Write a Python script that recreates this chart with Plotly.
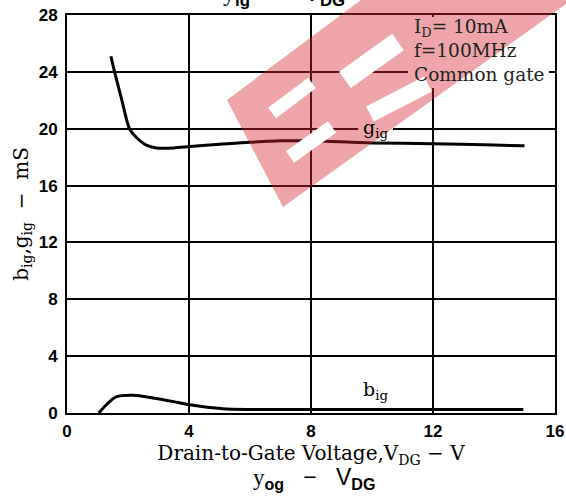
import math
import plotly.graph_objects as go

# ---- data ----
vdg_g = [1.44, 1.56, 1.8, 2.05, 2.27, 2.6, 2.93, 3.5, 4.04, 5.0, 6.0, 7.0, 8.0, 10.0, 12.0, 14.0, 15.0]
g_ig = [25.1, 24.0, 22.0, 20.0, 19.4, 18.85, 18.65, 18.65, 18.75, 18.9, 19.05, 19.15, 19.15, 19.0, 18.95, 18.85, 18.8]

vdg_b = [1.04, 1.29, 1.61, 2.16, 2.82, 3.5, 4.02, 5.11, 6.0, 8.0, 10.0, 12.0, 14.0, 14.96]
b_ig = [0.0, 0.58, 1.13, 1.24, 1.06, 0.8, 0.58, 0.3, 0.25, 0.25, 0.25, 0.25, 0.25, 0.25]

x_ticks = [0, 4, 8, 12, 16]
y_ticks = [0, 4, 8, 12, 16, 20, 24, 28]

SERIF = "DejaVu Serif"
SANS = "Liberation Sans"

W, H = 566, 500
ML, MR, MT, MB = 67, 11, 15, 87

# ---- decoration of the scanned page (page pixels) ----
WATERMARK = [(227, 100), (361, 0), (566, 0), (566, 4), (283, 207)]
WM_SLITS = [((272, 113), (312, 83), 13), ((290, 157), (332, 127), 14),
            ((345, 80), (398, 42), 20), ((370, 114), (428, 84), 17)]
TEXT_BOXES = [((408, 17), (549, 88)), ((358, 119), (393, 138))]


def to_paper(px, py):
    return (px - ML) / (W - ML - MR), (H - MB - py) / (H - MT - MB)


def poly_path(points):
    pts = [to_paper(px, py) for px, py in points]
    return "M " + " L ".join(f"{x:.4f},{y:.4f}" for x, y in pts) + " Z"


def slit(p0, p1, thick):
    dx, dy = p1[0] - p0[0], p1[1] - p0[1]
    L = math.hypot(dx, dy)
    nx, ny = -dy / L * thick / 2, dx / L * thick / 2
    return [(p0[0] + nx, p0[1] + ny), (p1[0] + nx, p1[1] + ny), (p1[0] - nx, p1[1] - ny), (p0[0] - nx, p0[1] - ny)]


fig = go.Figure()
fig.add_trace(go.Scatter(x=vdg_g, y=g_ig, mode="lines", line=dict(color="black", width=3, shape="spline", smoothing=0.8),
                         showlegend=False, hoverinfo="skip"))
fig.add_trace(go.Scatter(x=vdg_b, y=b_ig, mode="lines", line=dict(color="black", width=3, shape="spline", smoothing=0.8),
                         showlegend=False, hoverinfo="skip"))

axis_common = dict(showgrid=True, gridcolor="black", gridwidth=1.5, zeroline=False,
                   showline=True, linecolor="black", linewidth=2, mirror=True,
                   tickfont=dict(family=SANS, size=17, color="black", weight="bold"),
                   ticks="")

fig.update_layout(
    width=W, height=H,
    margin=dict(l=ML, r=MR, t=MT, b=MB, autoexpand=False),
    paper_bgcolor="white", plot_bgcolor="white",
    xaxis=dict(range=[0, 16], tickvals=x_ticks, ticktext=[str(v) for v in x_ticks], ticklabelstandoff=2,
               title=dict(text="Drain-to-Gate Voltage,V<sub>DG</sub> − V",
                          font=dict(family=SERIF, size=20, color="black"), standoff=4),
               **axis_common),
    yaxis=dict(range=[0, 28], tickvals=y_ticks, ticktext=[str(v) for v in y_ticks], ticklabelstandoff=4,
               title=dict(text="b<sub>ig</sub>,g<sub>ig</sub>  −  mS",
                          font=dict(family=SERIF, size=20, color="black"), standoff=5),
               **axis_common),
)

# white patches behind the in-plot texts (hide grid lines)
for (x0, y0), (x1, y1) in TEXT_BOXES:
    a, b = to_paper(x0, y0), to_paper(x1, y1)
    fig.add_shape(type="rect", xref="paper", yref="paper", x0=a[0], y0=a[1], x1=b[0], y1=b[1],
                  fillcolor="white", line=dict(width=0), layer="above")

# watermark band with white letter slits
fig.add_shape(type="path", path=poly_path(WATERMARK), xref="paper", yref="paper", layer="above",
              fillcolor="rgba(215,40,50,0.42)", line=dict(width=0))
for p0, p1, t in WM_SLITS:
    fig.add_shape(type="path", path=poly_path(slit(p0, p1, t)), xref="paper", yref="paper", layer="above",
                  fillcolor="white", line=dict(width=0))

# condition text block
fig.add_annotation(x=11.3, y=28, xref="x", yref="y", xanchor="left", yanchor="top",
                   text="I<sub>D</sub>= 10mA<br>f=100MHz<br>Common gate",
                   align="left", showarrow=False, borderpad=1,
                   font=dict(family=SERIF, size=18.5, color="#222"), yshift=1)

# curve labels
fig.add_annotation(x=10.1, y=20, xref="x", yref="y", text="g<sub>ig</sub>", showarrow=False,
                   font=dict(family=SERIF, size=19, color="black"))
fig.add_annotation(x=10.1, y=1.55, xref="x", yref="y", text="b<sub>ig</sub>", showarrow=False,
                   font=dict(family=SERIF, size=19, color="black"))

# clipped title of this chart at the very top, and title of the next chart at the bottom
fig.add_annotation(x=0.445, y=1.0, xref="paper", yref="paper", xanchor="center", yanchor="middle",
                   yshift=21, text="<span style='font-family:Liberation Serif'>y</span><sub><b>ig</b></sub>   −   V<sub><b>DG</b></sub>",
                   showarrow=False, font=dict(family=SANS, size=24, color="black"))
fig.add_annotation(x=0.507, y=0.0, xref="paper", yref="paper", xanchor="center", yanchor="middle",
                   yshift=-65, text="<span style='font-family:Liberation Serif'>y</span><sub><b>og</b></sub>   −   V<sub><b>DG</b></sub>",
                   showarrow=False, font=dict(family=SANS, size=23, color="black"))

fig.write_html("out.html", config={"displayModeBar": False},
               post_script="document.body.style.margin='0';")
